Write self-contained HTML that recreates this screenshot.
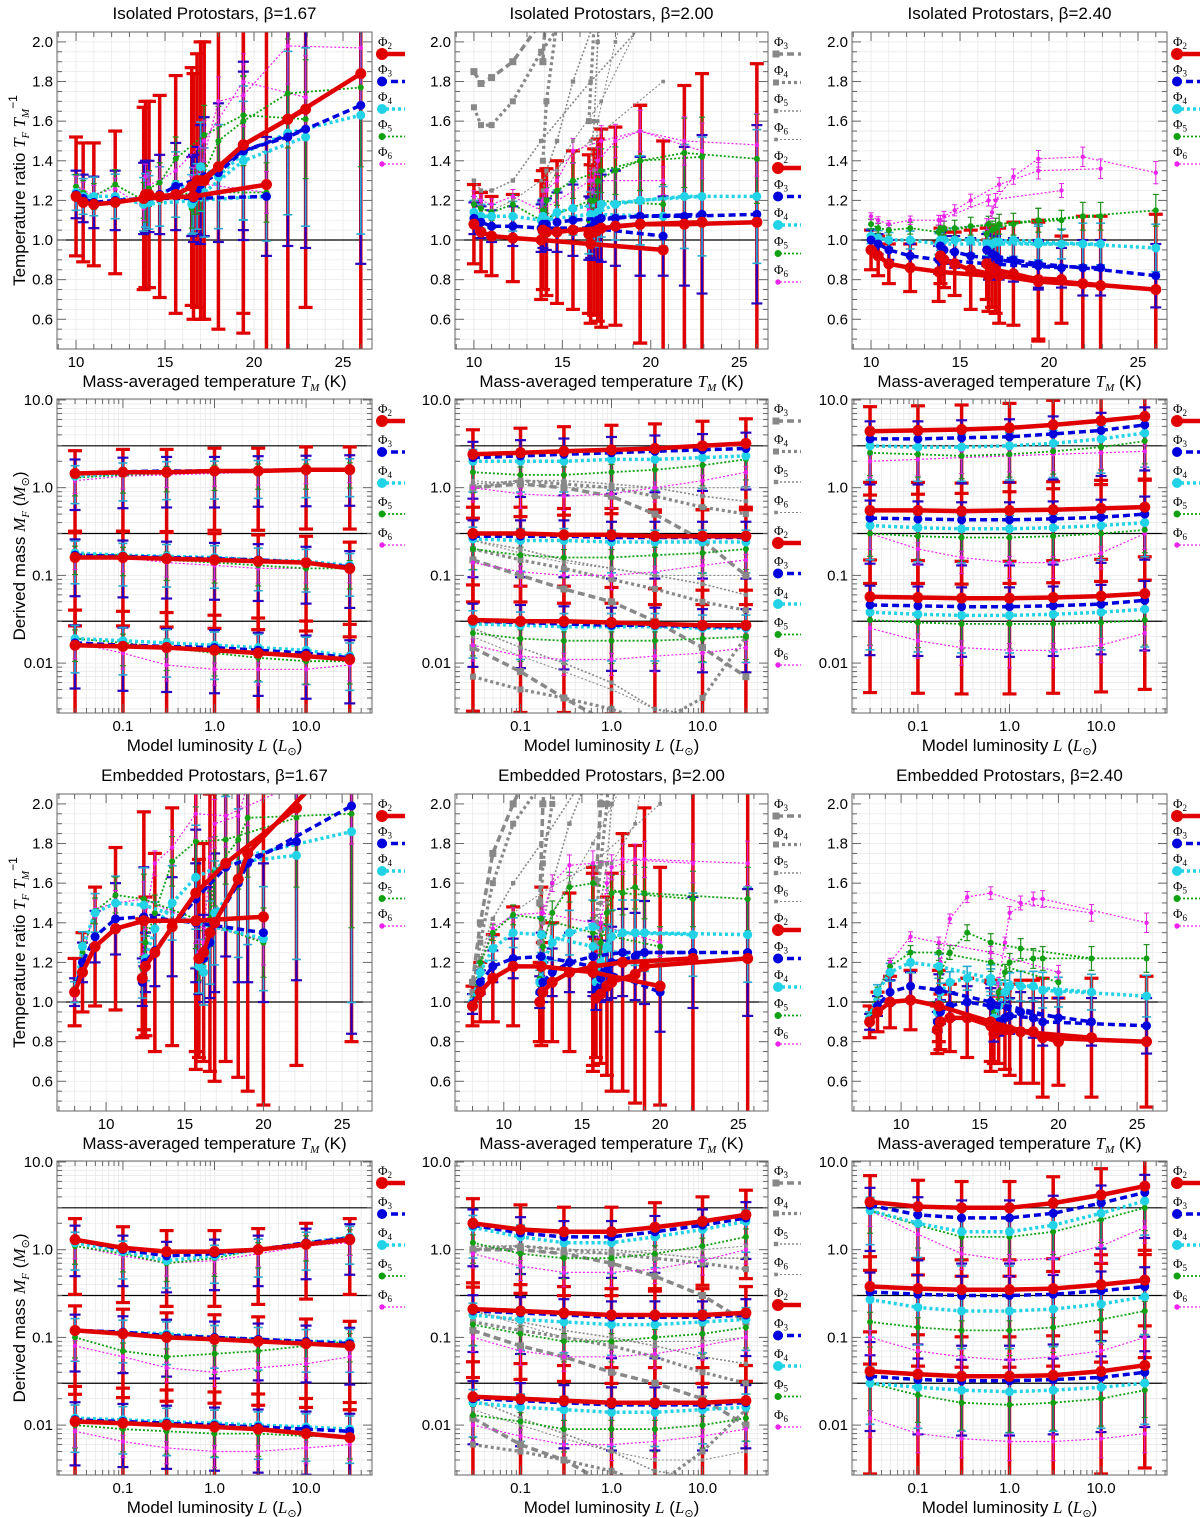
<!DOCTYPE html>
<html><head><meta charset="utf-8"><title>Protostar temperature and mass ratios</title>
<style>
html,body{margin:0;padding:0;background:#fff;}
svg{display:block;font-family:"Liberation Sans",sans-serif;}
</style></head>
<body>
<svg id="fig" width="1200" height="1517" viewBox="0 0 1200 1517" xmlns="http://www.w3.org/2000/svg">
<rect x="0" y="0" width="1200" height="1517" fill="#fff"/>
<defs id="defs"></defs>
</svg>
<script>
// ---------- data ----------
const tempIso = [[10.0,10.4,11.0,12.2,13.8,16.6,20.7],[13.9,14.1,14.7,15.6,17.2,19.4,22.9],[16.5,16.8,17.0,18.0,19.4,21.9,26.0]];
const tempEmb = [[8.0,8.5,9.3,10.6,12.4,15.7,20.0],[12.3,12.5,13.1,14.2,15.7,17.6,22.1],[15.9,16.2,16.6,16.9,18.4,19.0,25.6]];
const lumModel = [0.03,0.1,0.3,1,3,10,30];
const massTrue = [3,0.3,0.03];
const ratioTicks = ["0.6","0.8","1.0","1.2","1.4","1.6","1.8","2.0"];
const tempTicks = ["10","15","20","25"];
const massTicks = ["0.01","0.1","1.0","10.0"];
const lumTicks = ["0.1","1.0","10.0"];

// Isolated beta=1.67 (ratio)
const r1c1_phi2=[[1.22,1.19,1.18,1.19,1.21,1.22,1.28],[1.23,1.23,1.22,1.23,1.30,1.48,1.66],[1.27,1.30,1.30,1.37,1.48,1.61,1.84]];
const r1c1_phi3=[[1.23,1.21,1.19,1.20,1.21,1.21,1.22],[1.22,1.22,1.23,1.27,1.32,1.45,1.56],[1.22,1.25,1.28,1.34,1.45,1.52,1.68]];
const r1c1_phi4=[[1.24,1.22,1.22,1.22,1.18,1.20,1.22],[1.20,1.19,1.22,1.28,1.24,1.40,1.52],[1.18,1.22,1.37,1.32,1.44,1.54,1.63]];
const r1c1_phi5=[[1.27,1.24,1.22,1.28,1.20,1.24,1.24],[1.18,1.26,1.29,1.41,1.53,1.63,1.61],[1.16,1.24,1.30,1.50,1.60,1.74,1.77]];
const r1c1_phi6=[[1.28,1.25,1.23,1.26,1.16,1.29,1.24],[1.32,1.28,1.30,1.35,1.50,1.80,1.72],[1.25,1.30,1.36,1.70,1.73,1.98,1.97]];
const r1c1_errR=[[0.30,0.30,0.31,0.36,0.46,0.62,0.9],[0.47,0.47,0.51,0.6,0.7,0.85,1.0],[0.6,0.64,0.7,0.82,0.95,1.2,1.5]];
const r1c1_errB=[[0.12,0.12,0.13,0.15,0.18,0.22,0.3],[0.18,0.18,0.2,0.22,0.3,0.4,0.6],[0.2,0.22,0.3,0.35,0.45,0.55,0.8]];
// Isolated beta=2.00
const r1c2_phi2=[[1.08,1.04,1.02,1.01,1.0,0.98,0.95],[1.05,1.04,1.04,1.05,1.06,1.08,1.09],[1.03,1.04,1.05,1.07,1.08,1.08,1.09]];
const r1c2_phi3=[[1.11,1.09,1.07,1.07,1.06,1.06,1.02],[1.08,1.08,1.09,1.1,1.11,1.12,1.13],[1.06,1.08,1.10,1.11,1.12,1.12,1.13]];
const r1c2_phi4=[[1.14,1.12,1.12,1.12,1.1,1.13,1.12],[1.12,1.1,1.14,1.16,1.18,1.2,1.22],[1.05,1.1,1.14,1.18,1.2,1.22,1.22]];
const r1c2_phi5=[[1.18,1.16,1.14,1.18,1.1,1.2,1.18],[1.15,1.2,1.25,1.3,1.35,1.4,1.42],[1.1,1.2,1.3,1.35,1.4,1.44,1.41]];
const r1c2_phi6=[[1.22,1.2,1.18,1.22,1.15,1.3,1.3],[1.2,1.25,1.3,1.45,1.5,1.55,1.45],[1.15,1.3,1.4,1.5,1.55,1.5,1.48]];
const r1c2_gray3=[[1.85,1.79,1.82,1.9,2.1,2.5,3],[1.9,2.2,2.6,3,3,3,3],[2.1,2.5,3,3,3,3,3]];
const r1c2_gray4=[[1.67,1.58,1.58,1.7,1.95,2.3,3],[1.4,1.7,2.1,2.6,3,3,3],[1.6,2.1,2.8,3,3,3,3]];
const r1c2_gray5=[[1.3,1.25,1.25,1.3,1.5,1.8,2.2],[1.25,1.35,1.5,1.8,2.2,3,3],[1.3,1.6,2,2.6,3,3,3]];
const r1c2_gray6=[[1.2,1.15,1.15,1.2,1.3,1.5,1.8],[1.2,1.25,1.35,1.5,1.7,2.1,2.5],[1.2,1.35,1.6,2.0,2.5,3,3]];
const r1c2_errR=[[0.2,0.2,0.2,0.22,0.3,0.4,0.55],[0.3,0.32,0.36,0.4,0.5,0.6,0.75],[0.4,0.42,0.46,0.5,0.6,0.7,0.8]];
const r1c2_errB=[[0.08,0.08,0.08,0.1,0.12,0.15,0.2],[0.12,0.13,0.15,0.18,0.22,0.3,0.4],[0.16,0.18,0.2,0.24,0.3,0.35,0.45]];
// Isolated beta=2.40
const r1c3_phi2=[[0.95,0.92,0.88,0.86,0.84,0.82,0.80],[0.92,0.90,0.88,0.85,0.82,0.79,0.77],[0.88,0.86,0.85,0.83,0.80,0.78,0.75]];
const r1c3_phi3=[[1.0,0.98,0.95,0.92,0.9,0.88,0.86],[0.97,0.95,0.94,0.92,0.9,0.87,0.86],[0.95,0.93,0.92,0.9,0.88,0.86,0.82]];
const r1c3_phi4=[[1.02,1.01,1.0,1.0,0.98,0.98,0.98],[1.0,1.0,1.0,1.0,0.99,0.98,0.98],[0.98,0.98,0.99,1.0,0.99,0.98,0.96]];
const r1c3_phi5=[[1.08,1.06,1.05,1.06,1.04,1.08,1.1],[1.06,1.06,1.06,1.07,1.08,1.1,1.12],[1.03,1.05,1.06,1.08,1.1,1.12,1.15]];
const r1c3_phi6=[[1.12,1.1,1.08,1.1,1.1,1.2,1.25],[1.1,1.12,1.15,1.2,1.28,1.35,1.36],[1.08,1.14,1.2,1.32,1.41,1.42,1.34]];
const r1c3_errR=[[0.1,0.1,0.1,0.12,0.15,0.18,0.22],[0.14,0.14,0.16,0.2,0.24,0.3,0.35],[0.18,0.2,0.22,0.26,0.3,0.34,0.38]];
const r1c3_errB=[[0.05,0.05,0.05,0.06,0.07,0.08,0.1],[0.07,0.07,0.08,0.09,0.1,0.12,0.14],[0.08,0.09,0.1,0.11,0.12,0.14,0.16]];
// Embedded beta=1.67
const r3c1_phi2=[[1.05,1.15,1.28,1.37,1.41,1.41,1.43],[1.12,1.18,1.25,1.38,1.55,1.70,1.98],[1.22,1.25,1.35,1.40,1.62,1.75,2.3]];
const r3c1_phi3=[[1.05,1.2,1.33,1.42,1.43,1.40,1.35],[1.1,1.2,1.26,1.38,1.52,1.68,1.81],[1.22,1.22,1.3,1.4,1.6,1.7,1.99]];
const r3c1_phi4=[[1.05,1.28,1.45,1.5,1.49,1.4,1.32],[1.11,1.22,1.37,1.50,1.63,1.70,1.74],[1.18,1.15,1.3,1.45,1.6,1.74,1.86]];
const r3c1_phi5=[[1.04,1.25,1.46,1.54,1.52,1.42,1.3],[1.17,1.3,1.45,1.71,1.81,1.82,1.93],[1.2,1.25,1.42,1.66,1.82,1.93,1.95]];
const r3c1_phi6=[[1.03,1.24,1.47,1.50,1.52,1.40,1.31],[1.2,1.42,1.70,1.78,1.95,1.94,2.1],[1.25,1.3,1.73,1.9,1.94,2.1,2.2]];
const r3c1_errR=[[0.17,0.2,0.3,0.41,0.55,0.75,0.95],[0.3,0.35,0.5,0.6,0.8,1.0,1.3],[0.5,0.55,0.7,0.8,1.0,1.2,1.5]];
const r3c1_errB=[[0.07,0.1,0.13,0.18,0.25,0.3,0.35],[0.12,0.15,0.18,0.25,0.35,0.45,0.7],[0.18,0.22,0.28,0.35,0.5,0.6,1.15]];
// Embedded beta=2.00
const r3c2_phi2=[[0.98,1.05,1.12,1.18,1.18,1.15,1.08],[1.0,1.05,1.1,1.15,1.18,1.2,1.22],[1.02,1.04,1.08,1.1,1.14,1.18,1.22]];
const r3c2_phi3=[[0.99,1.1,1.18,1.22,1.23,1.18,1.05],[1.05,1.1,1.15,1.2,1.23,1.25,1.25],[1.06,1.12,1.16,1.2,1.23,1.25,1.25]];
const r3c2_phi4=[[1.0,1.15,1.27,1.35,1.34,1.28,1.2],[1.1,1.2,1.3,1.35,1.38,1.35,1.34],[1.1,1.2,1.28,1.33,1.35,1.35,1.34]];
const r3c2_phi5=[[1.0,1.2,1.35,1.44,1.42,1.35,1.28],[1.12,1.28,1.45,1.58,1.6,1.55,1.52],[1.15,1.3,1.45,1.55,1.58,1.55,1.52]];
const r3c2_phi6=[[1.0,1.2,1.37,1.44,1.45,1.4,1.3],[1.2,1.45,1.6,1.69,1.7,1.72,1.7],[1.2,1.4,1.6,1.68,1.72,1.72,1.7]];
const r3c2_gray3=[[1.1,1.4,1.75,2.0,2.3,3,3],[1.5,2.0,2.5,3,3,3,3],[1.6,2,2.5,3,3,3,3]];
const r3c2_gray4=[[1.05,1.3,1.6,1.9,2.1,2.6,3],[1.3,1.7,2.0,2.5,3,3,3],[1.4,1.7,2.0,2.4,3,3,3]];
const r3c2_gray5=[[1.02,1.22,1.42,1.6,1.8,2.2,2.6],[1.2,1.4,1.6,1.9,2.2,2.6,3],[1.3,1.5,1.7,2.0,2.4,3,3]];
const r3c2_gray6=[[1.0,1.18,1.35,1.45,1.55,1.7,2.0],[1.15,1.3,1.45,1.6,1.8,2.1,2.5],[1.2,1.35,1.5,1.7,1.9,2.2,2.6]];
const r3c2_errR=[[0.1,0.15,0.22,0.3,0.4,0.5,0.6],[0.2,0.25,0.3,0.4,0.5,0.65,0.85],[0.3,0.35,0.45,0.55,0.65,0.8,1.0]];
const r3c2_errB=[[0.05,0.06,0.08,0.1,0.12,0.15,0.2],[0.08,0.1,0.12,0.15,0.18,0.22,0.28],[0.1,0.12,0.15,0.18,0.22,0.26,0.32]];
// Embedded beta=2.40
const r3c3_phi2=[[0.9,0.95,1.0,1.01,0.98,0.9,0.8],[0.86,0.9,0.92,0.92,0.88,0.85,0.82],[0.84,0.86,0.86,0.86,0.85,0.82,0.80]];
const r3c3_phi3=[[0.9,0.98,1.05,1.08,1.06,1.0,0.92],[0.9,0.95,0.98,1.0,0.98,0.95,0.9],[0.86,0.9,0.92,0.93,0.92,0.9,0.88]];
const r3c3_phi4=[[0.92,1.05,1.15,1.2,1.18,1.12,1.05],[0.95,1.05,1.1,1.12,1.1,1.08,1.05],[0.92,0.98,1.05,1.08,1.08,1.06,1.03]];
const r3c3_phi5=[[0.92,1.05,1.18,1.25,1.25,1.2,1.1],[0.98,1.15,1.25,1.35,1.3,1.27,1.22],[0.95,1.05,1.15,1.2,1.22,1.22,1.22]];
const r3c3_phi6=[[0.92,1.05,1.2,1.33,1.3,1.25,1.15],[1.0,1.2,1.42,1.53,1.55,1.5,1.45],[0.98,1.1,1.3,1.45,1.52,1.52,1.4]];
const r3c3_errR=[[0.08,0.1,0.13,0.15,0.18,0.2,0.22],[0.12,0.14,0.17,0.2,0.23,0.26,0.3],[0.15,0.17,0.2,0.23,0.26,0.3,0.33]];
const r3c3_errB=[[0.04,0.05,0.06,0.07,0.08,0.09,0.1],[0.05,0.06,0.07,0.08,0.09,0.1,0.12],[0.06,0.07,0.08,0.09,0.1,0.12,0.14]];

// Mass panels (rows: true mass 3, 0.3, 0.03)
const r2c1_phi2=[[1.45,1.5,1.5,1.55,1.55,1.6,1.6],[0.16,0.16,0.155,0.15,0.145,0.14,0.12],[0.016,0.0155,0.015,0.014,0.013,0.012,0.011]];
const r2c1_phi3=[[1.45,1.52,1.55,1.55,1.58,1.6,1.62],[0.17,0.165,0.16,0.155,0.15,0.14,0.125],[0.017,0.016,0.0155,0.015,0.014,0.013,0.0115]];
const r2c1_phi4=[[1.35,1.45,1.5,1.52,1.55,1.58,1.62],[0.18,0.17,0.165,0.16,0.15,0.145,0.13],[0.019,0.018,0.017,0.016,0.015,0.014,0.012]];
const r2c1_phi5=[[1.3,1.4,1.45,1.5,1.55,1.55,1.6],[0.175,0.17,0.15,0.14,0.13,0.12,0.12],[0.019,0.017,0.015,0.013,0.0115,0.0105,0.0105]];
const r2c1_phi6=[[1.2,1.35,1.4,1.45,1.5,1.55,1.6],[0.17,0.16,0.14,0.13,0.12,0.12,0.12],[0.017,0.013,0.0095,0.0085,0.0085,0.0085,0.0095]];
const r2c1_errR=[0.26,0.3,0.4];
const r2c1_errB=[0.16,0.18,0.2];

const r2c2_phi2=[[2.4,2.5,2.6,2.7,2.8,3.0,3.2],[0.3,0.3,0.29,0.29,0.28,0.28,0.28],[0.031,0.03,0.03,0.029,0.028,0.027,0.027]];
const r2c2_phi3=[[2.2,2.3,2.4,2.5,2.6,2.7,2.8],[0.28,0.28,0.28,0.27,0.27,0.27,0.27],[0.03,0.029,0.028,0.027,0.027,0.026,0.026]];
const r2c2_phi4=[[2.0,2.0,2.0,2.1,2.1,2.2,2.3],[0.26,0.25,0.25,0.24,0.24,0.24,0.24],[0.028,0.027,0.026,0.026,0.026,0.025,0.025]];
const r2c2_phi5=[[1.5,1.4,1.4,1.5,1.6,1.8,2.1],[0.2,0.17,0.16,0.16,0.17,0.18,0.2],[0.022,0.019,0.018,0.018,0.018,0.019,0.02]];
const r2c2_phi6=[[1.0,0.85,0.8,0.85,1.0,1.2,1.5],[0.14,0.11,0.1,0.1,0.11,0.13,0.15],[0.016,0.012,0.011,0.011,0.012,0.013,0.015]];
const r2c2_gray3=[[1.0,1.1,1.0,0.8,0.5,0.25,0.1],[0.15,0.1,0.07,0.05,0.03,0.015,0.007],[0.015,0.008,0.004,0.002,0.001,0.0005,0.0003]];
const r2c2_gray4=[[1.0,1.2,1.1,1.0,0.8,0.6,0.5],[0.2,0.15,0.12,0.09,0.07,0.05,0.04],[0.007,0.005,0.004,0.003,0.002,0.004,0.02]];
const r2c2_gray5=[[1.1,1.2,1.2,1.1,1.0,0.8,0.7],[0.25,0.2,0.15,0.12,0.1,0.08,0.06],[0.025,0.015,0.01,0.006,0.003,0.0025,0.002]];
const r2c2_gray6=[[1.2,1.1,1.0,1.0,1.0,1.0,1.0],[0.25,0.18,0.14,0.12,0.1,0.1,0.1],[0.02,0.012,0.008,0.005,0.003,0.002,0.002]];
const r2c2_errR=[0.28,0.3,0.4];
const r2c2_errB=[0.18,0.18,0.2];

const r2c3_phi2=[[4.4,4.5,4.6,4.8,5.2,5.8,6.5],[0.55,0.55,0.54,0.55,0.56,0.58,0.6],[0.057,0.056,0.055,0.055,0.056,0.058,0.062]];
const r2c3_phi3=[[3.6,3.6,3.7,3.8,4.1,4.5,5.2],[0.45,0.44,0.43,0.43,0.44,0.46,0.5],[0.046,0.045,0.044,0.044,0.045,0.047,0.052]];
const r2c3_phi4=[[3.0,2.9,2.9,3.0,3.2,3.6,4.2],[0.37,0.35,0.34,0.34,0.35,0.37,0.4],[0.038,0.036,0.035,0.035,0.036,0.038,0.041]];
const r2c3_phi5=[[2.5,2.4,2.3,2.4,2.6,2.9,3.4],[0.3,0.28,0.27,0.27,0.28,0.3,0.33],[0.031,0.029,0.028,0.028,0.028,0.029,0.031]];
const r2c3_phi6=[[2.0,2.1,2.2,2.3,2.4,2.5,2.6],[0.3,0.2,0.16,0.14,0.14,0.18,0.3],[0.025,0.018,0.015,0.014,0.014,0.016,0.022]];
const r2c3_errR=[0.28,0.32,0.42];
const r2c3_errB=[0.2,0.2,0.22];

const r4c1_phi2=[[1.3,1.05,0.95,0.95,1.0,1.15,1.3],[0.12,0.11,0.1,0.095,0.09,0.085,0.08],[0.011,0.0105,0.01,0.0095,0.009,0.008,0.0072]];
const r4c1_phi3=[[1.3,1.0,0.85,0.9,1.0,1.2,1.35],[0.12,0.115,0.105,0.1,0.095,0.09,0.085],[0.0115,0.011,0.0105,0.01,0.0095,0.009,0.0085]];
const r4c1_phi4=[[1.2,0.95,0.75,0.85,1.0,1.2,1.4],[0.12,0.115,0.11,0.1,0.095,0.09,0.09],[0.012,0.0115,0.011,0.0105,0.01,0.0095,0.009]];
const r4c1_phi5=[[1.1,0.9,0.7,0.8,1.0,1.2,1.4],[0.1,0.07,0.06,0.065,0.07,0.08,0.09],[0.01,0.009,0.0085,0.008,0.008,0.0075,0.0075]];
const r4c1_phi6=[[1.1,0.85,0.7,0.75,0.9,1.1,1.2],[0.08,0.06,0.045,0.04,0.045,0.05,0.06],[0.0085,0.0065,0.0055,0.005,0.005,0.0055,0.006]];
const r4c1_errR=[0.24,0.28,0.4];
const r4c1_errB=[0.16,0.18,0.2];

const r4c2_phi2=[[2.0,1.7,1.6,1.6,1.8,2.1,2.5],[0.21,0.2,0.19,0.18,0.18,0.18,0.19],[0.021,0.02,0.019,0.018,0.018,0.018,0.019]];
const r4c2_phi3=[[1.9,1.55,1.4,1.4,1.6,1.9,2.3],[0.2,0.19,0.18,0.17,0.17,0.17,0.18],[0.02,0.019,0.018,0.017,0.017,0.017,0.018]];
const r4c2_phi4=[[1.8,1.4,1.2,1.2,1.4,1.7,2.1],[0.18,0.16,0.15,0.14,0.14,0.15,0.16],[0.018,0.016,0.015,0.014,0.014,0.015,0.016]];
const r4c2_phi5=[[1.2,0.9,0.8,0.8,0.9,1.1,1.4],[0.14,0.11,0.09,0.09,0.1,0.11,0.13],[0.013,0.011,0.009,0.009,0.009,0.01,0.012]];
const r4c2_phi6=[[0.9,0.65,0.55,0.55,0.6,0.75,1.0],[0.1,0.07,0.06,0.06,0.065,0.08,0.1],[0.01,0.0075,0.006,0.006,0.0065,0.0075,0.009]];
const r4c2_gray3=[[1.0,1.0,0.9,0.7,0.5,0.3,0.15],[0.12,0.08,0.06,0.04,0.03,0.02,0.01],[0.012,0.006,0.004,0.002,0.001,0.001,0.002]];
const r4c2_gray4=[[1.0,1.1,1.0,0.9,0.8,0.7,0.6],[0.15,0.12,0.1,0.08,0.06,0.04,0.03],[0.006,0.005,0.004,0.003,0.002,0.005,0.015]];
const r4c2_gray5=[[1.1,1.1,1.0,1.0,0.9,0.8,0.8],[0.2,0.15,0.12,0.1,0.08,0.06,0.05],[0.02,0.012,0.008,0.005,0.003,0.0025,0.002]];
const r4c2_gray6=[[1.1,1.0,0.9,0.9,1.0,1.0,1.1],[0.2,0.14,0.1,0.09,0.09,0.09,0.1],[0.015,0.01,0.007,0.005,0.004,0.004,0.005]];
const r4c2_errR=[0.28,0.3,0.4];
const r4c2_errB=[0.18,0.18,0.2];

const r4c3_phi2=[[3.5,3.1,3.0,3.0,3.4,4.2,5.3],[0.38,0.36,0.35,0.35,0.36,0.4,0.45],[0.041,0.038,0.036,0.036,0.037,0.041,0.048]];
const r4c3_phi3=[[3.2,2.5,2.3,2.3,2.6,3.4,4.5],[0.33,0.31,0.3,0.3,0.31,0.34,0.38],[0.036,0.033,0.032,0.032,0.033,0.035,0.04]];
const r4c3_phi4=[[2.8,2.0,1.6,1.6,1.9,2.6,3.6],[0.27,0.22,0.2,0.2,0.21,0.24,0.29],[0.03,0.027,0.025,0.024,0.025,0.027,0.03]];
const r4c3_phi5=[[2.8,1.9,1.4,1.4,1.6,2.2,3.0],[0.15,0.13,0.12,0.12,0.13,0.16,0.2],[0.03,0.022,0.018,0.017,0.018,0.02,0.025]];
const r4c3_phi6=[[2.8,1.5,0.9,0.75,0.8,1.1,1.8],[0.1,0.07,0.06,0.055,0.06,0.07,0.1],[0.012,0.008,0.007,0.0065,0.0065,0.007,0.008]];
const r4c3_errR=[0.3,0.34,0.45];
const r4c3_errB=[0.2,0.22,0.24];

// ---------- drawing ----------
const NS='http://www.w3.org/2000/svg';
const svg=document.getElementById('fig');
const defs=document.getElementById('defs');
function mk(tag,attrs,parent){const e=document.createElementNS(NS,tag);for(const k in attrs)e.setAttribute(k,attrs[k]);(parent||svg).appendChild(e);return e;}

const COLS=[[57,372],[455,768],[852,1167]];
const ROWS=[[32,349],[399,713],[794,1111],[1161,1475]];
const STY={
 phi2:{c:'#e00000',w:4.5,d:'',r:5.5,lab:'2'},
 phi3:{c:'#0000dd',w:3.5,d:'7,4',r:4.5,lab:'3'},
 phi4:{c:'#22d2e6',w:3.5,d:'3,3',r:4.5,lab:'4'},
 phi5:{c:'#11a011',w:1.8,d:'2,2',r:3,lab:'5'},
 phi6:{c:'#ee22ee',w:1.2,d:'2,2',r:2.2,lab:'6'},
 gray3:{c:'#888',w:3.5,d:'7,4',r:3.5,lab:'3',sq:1},
 gray4:{c:'#888',w:3.2,d:'3,3',r:3,lab:'4',sq:1},
 gray5:{c:'#888',w:1.6,d:'2,2',r:2.2,lab:'5',sq:1},
 gray6:{c:'#888',w:1.1,d:'2,2',r:1.8,lab:'6',sq:1}
};

const panels=[
 {r:0,c:0,kind:'T',T:tempIso,env:'Isolated',beta:'1.67',s:{phi2:r1c1_phi2,phi3:r1c1_phi3,phi4:r1c1_phi4,phi5:r1c1_phi5,phi6:r1c1_phi6},eR:r1c1_errR,eB:r1c1_errB},
 {r:0,c:1,kind:'T',T:tempIso,env:'Isolated',beta:'2.00',s:{phi2:r1c2_phi2,phi3:r1c2_phi3,phi4:r1c2_phi4,phi5:r1c2_phi5,phi6:r1c2_phi6},g:{gray3:r1c2_gray3,gray4:r1c2_gray4,gray5:r1c2_gray5,gray6:r1c2_gray6},eR:r1c2_errR,eB:r1c2_errB},
 {r:0,c:2,kind:'T',T:tempIso,env:'Isolated',beta:'2.40',s:{phi2:r1c3_phi2,phi3:r1c3_phi3,phi4:r1c3_phi4,phi5:r1c3_phi5,phi6:r1c3_phi6},eR:r1c3_errR,eB:r1c3_errB},
 {r:1,c:0,kind:'M',s:{phi2:r2c1_phi2,phi3:r2c1_phi3,phi4:r2c1_phi4,phi5:r2c1_phi5,phi6:r2c1_phi6},eR:r2c1_errR,eB:r2c1_errB},
 {r:1,c:1,kind:'M',s:{phi2:r2c2_phi2,phi3:r2c2_phi3,phi4:r2c2_phi4,phi5:r2c2_phi5,phi6:r2c2_phi6},g:{gray3:r2c2_gray3,gray4:r2c2_gray4,gray5:r2c2_gray5,gray6:r2c2_gray6},eR:r2c2_errR,eB:r2c2_errB},
 {r:1,c:2,kind:'M',s:{phi2:r2c3_phi2,phi3:r2c3_phi3,phi4:r2c3_phi4,phi5:r2c3_phi5,phi6:r2c3_phi6},eR:r2c3_errR,eB:r2c3_errB},
 {r:2,c:0,kind:'T',T:tempEmb,env:'Embedded',beta:'1.67',s:{phi2:r3c1_phi2,phi3:r3c1_phi3,phi4:r3c1_phi4,phi5:r3c1_phi5,phi6:r3c1_phi6},eR:r3c1_errR,eB:r3c1_errB},
 {r:2,c:1,kind:'T',T:tempEmb,env:'Embedded',beta:'2.00',s:{phi2:r3c2_phi2,phi3:r3c2_phi3,phi4:r3c2_phi4,phi5:r3c2_phi5,phi6:r3c2_phi6},g:{gray3:r3c2_gray3,gray4:r3c2_gray4,gray5:r3c2_gray5,gray6:r3c2_gray6},eR:r3c2_errR,eB:r3c2_errB},
 {r:2,c:2,kind:'T',T:tempEmb,env:'Embedded',beta:'2.40',s:{phi2:r3c3_phi2,phi3:r3c3_phi3,phi4:r3c3_phi4,phi5:r3c3_phi5,phi6:r3c3_phi6},eR:r3c3_errR,eB:r3c3_errB},
 {r:3,c:0,kind:'M',s:{phi2:r4c1_phi2,phi3:r4c1_phi3,phi4:r4c1_phi4,phi5:r4c1_phi5,phi6:r4c1_phi6},eR:r4c1_errR,eB:r4c1_errB},
 {r:3,c:1,kind:'M',s:{phi2:r4c2_phi2,phi3:r4c2_phi3,phi4:r4c2_phi4,phi5:r4c2_phi5,phi6:r4c2_phi6},g:{gray3:r4c2_gray3,gray4:r4c2_gray4,gray5:r4c2_gray5,gray6:r4c2_gray6},eR:r4c2_errR,eB:r4c2_errB},
 {r:3,c:2,kind:'M',s:{phi2:r4c3_phi2,phi3:r4c3_phi3,phi4:r4c3_phi4,phi5:r4c3_phi5,phi6:r4c3_phi6},eR:r4c3_errR,eB:r4c3_errB}
];

panels.forEach((P,pi)=>{
 const [x0,x1]=COLS[P.c],[y0,y1]=ROWS[P.r];
 const isT=P.kind==='T';
 const tmin=(P.env==='Embedded')?6.88:8.93, tmax=(P.env==='Embedded')?26.9:26.63;
 const xs=isT?(v=>x0+(v-tmin)/(tmax-tmin)*(x1-x0)):(v=>x0+(Math.log10(v)+1.72)/3.44*(x1-x0));
 const ys=isT?(v=>y1-(v-0.45)/1.6*(y1-y0)):(v=>y0+(1.011-Math.log10(v))/3.58*(y1-y0));
 const X=isT?P.T:[lumModel,lumModel,lumModel];

 const g=mk('g',{});
 
 
 const cp=mk('clipPath',{id:'cp'+pi},defs);
 mk('rect',{x:x0,y:y0,width:x1-x0,height:y1-y0},cp);

 // grid
 const grid=mk('g',{stroke:'#e9e9e9','stroke-width':0.8},g);
 
 
 const xMinor=[],yMinor=[],xMajor=[],yMajor=[];
 if(isT){
  for(let t=Math.ceil(tmin);t<=tmax;t++){(t%5===0?xMajor:xMinor).push(t);}
  for(let k=10;k<=205;k+=5){const v=k/100;if(v<0.45||v>2.05)continue;(k%20===0&&k>=60?yMajor:yMinor).push(v);}
 } else {
  for(let e=-2;e<=1;e++)for(let m=1;m<=9;m++){const v=m*Math.pow(10,e);const lv=Math.log10(v);if(lv<-1.72||lv>1.72)continue;(m===1&&e>=-1?xMajor:xMinor).push(v);}
  for(let e=-3;e<=1;e++)for(let m=1;m<=9;m++){const v=m*Math.pow(10,e);const lv=Math.log10(v);if(lv<-2.569||lv>1.011)continue;(m===1&&e>=-2?yMajor:yMinor).push(v);}
 }
 xMinor.concat(xMajor).forEach(v=>mk('line',{x1:xs(v),x2:xs(v),y1:y0,y2:y1},grid));
 yMinor.concat(yMajor).forEach(v=>mk('line',{x1:x0,x2:x1,y1:ys(v),y2:ys(v)},grid));

 // reference lines
 const refs=isT?[1.0]:massTrue;
 refs.forEach(v=>{const l=mk('line',{x1:x0,x2:x1,y1:ys(v),y2:ys(v),stroke:'#000','stroke-width':1.2},g);
  
  });

 const plot=mk('g',{'clip-path':'url(#cp'+pi+')'},g);
 
 

 function line(arr,st,name){
  arr.forEach((seq,si)=>{
   const pts=seq.map((v,i)=>xs(X[si][i]).toFixed(1)+','+ys(v).toFixed(1)).join(' ');
   const pl=mk('polyline',{points:pts,fill:'none',stroke:st.c,'stroke-width':st.w,'stroke-dasharray':st.d,'stroke-linejoin':'round'},plot);
   
   
   seq.forEach((v,i)=>{
    const cx=xs(X[si][i]),cy=ys(v);
    let m;
    if(st.sq) m=mk('rect',{x:cx-st.r,y:cy-st.r,width:2*st.r,height:2*st.r,fill:st.c},plot);
    else m=mk('circle',{cx:cx,cy:cy,r:st.r,fill:st.c},plot);
    
    
   });
  });
 }
 function errs(arr,err,color,w,cap,cw,name,scale){
  arr.forEach((seq,si)=>{
   seq.forEach((v,i)=>{
    const e=(isT?err[si][i]:err[si])*scale;
    let lo,hi;
    if(isT){lo=v-e;hi=v+e;} else {hi=v*Math.pow(10,e);lo=v/Math.pow(10,2.6*e);}
    const cx=xs(X[si][i]);
    const eg=mk('g',{stroke:color},plot);
    
    
    mk('line',{x1:cx,x2:cx,y1:ys(lo),y2:ys(hi),'stroke-width':w},eg);
    mk('line',{x1:cx-cap,x2:cx+cap,y1:ys(lo),y2:ys(lo),'stroke-width':cw},eg);
    mk('line',{x1:cx-cap,x2:cx+cap,y1:ys(hi),y2:ys(hi),'stroke-width':cw},eg);
   });
  });
 }
 errs(P.s.phi2,P.eR,'#e00000',3.5,7,3.2,'phi2',1);
 errs(P.s.phi3,P.eB,'#2a00c0',2.2,5.5,2.2,'phi3',1);
 errs(P.s.phi4,P.eB,'#29a9d0',1.6,4.5,1.6,'phi4',0.75);
 errs(P.s.phi5,P.eB,'#209020',1.2,3,1.2,'phi5',0.5);
 errs(P.s.phi6,P.eB,'#e020e0',1,2.5,1,'phi6',0.35);
 if(P.g){['gray6','gray5','gray4','gray3'].forEach(k=>line(P.g[k],STY[k],k));}
 ['phi6','phi5','phi4','phi3','phi2'].forEach(k=>line(P.s[k],STY[k],k));

 // frame & ticks
 const ax=mk('g',{stroke:'#666','stroke-width':1},g);
 
 
 mk('rect',{x:x0,y:y0,width:x1-x0,height:y1-y0,fill:'none'},ax);
 xMajor.forEach(v=>{mk('line',{x1:xs(v),x2:xs(v),y1:y1,y2:y1-9},ax);mk('line',{x1:xs(v),x2:xs(v),y1:y0,y2:y0+9},ax);});
 xMinor.forEach(v=>{mk('line',{x1:xs(v),x2:xs(v),y1:y1,y2:y1-5},ax);mk('line',{x1:xs(v),x2:xs(v),y1:y0,y2:y0+5},ax);});
 yMajor.forEach(v=>{mk('line',{x1:x0,x2:x0+9,y1:ys(v),y2:ys(v)},ax);mk('line',{x1:x1,x2:x1-9,y1:ys(v),y2:ys(v)},ax);});
 yMinor.forEach(v=>{mk('line',{x1:x0,x2:x0+5,y1:ys(v),y2:ys(v)},ax);mk('line',{x1:x1,x2:x1-5,y1:ys(v),y2:ys(v)},ax);});

 // tick labels
 const xl=isT?tempTicks:lumTicks, yl=isT?ratioTicks:massTicks;
 xl.forEach(s=>{const t=mk('text',{x:xs(parseFloat(s)),y:y1+18,'text-anchor':'middle','font-size':15,fill:'#000'},g);t.textContent=s;
  
  });
 yl.forEach(s=>{const t=mk('text',{x:x0-4,y:ys(parseFloat(s))+5,'text-anchor':'end','font-size':15,fill:'#000'},g);t.textContent=s;
  
  });

 // axis titles
 const xt=mk('text',{x:(x0+x1)/2,y:y1+38,'text-anchor':'middle','font-size':17,fill:'#000'},g);
 
 
 if(isT){xt.innerHTML='Mass-averaged temperature <tspan font-family="Liberation Serif" font-style="italic">T</tspan><tspan font-family="Liberation Serif" font-style="italic" font-size="11" dy="4">M</tspan><tspan dy="-4"> (K)</tspan>';}
 else {xt.innerHTML='Model luminosity <tspan font-family="Liberation Serif" font-style="italic">L</tspan> (<tspan font-family="Liberation Serif" font-style="italic">L</tspan><tspan font-size="11" dy="4">⊙</tspan><tspan dy="-4">)</tspan>';}
 if(P.c===0){
  const cy=(y0+y1)/2;
  const yt=mk('text',{x:0,y:0,transform:'translate(25,'+cy+') rotate(-90)','text-anchor':'middle','font-size':17,fill:'#000'},g);
  
  
  if(isT) yt.innerHTML='Temperature ratio <tspan font-family="Liberation Serif" font-style="italic">T</tspan><tspan font-family="Liberation Serif" font-style="italic" font-size="11" dy="4">F</tspan><tspan dy="-4" font-family="Liberation Serif" font-style="italic"> T</tspan><tspan font-family="Liberation Serif" font-style="italic" font-size="11" dy="4">M</tspan><tspan font-size="12" dy="-12">−1</tspan>';
  else yt.innerHTML='Derived mass <tspan font-family="Liberation Serif" font-style="italic">M</tspan><tspan font-family="Liberation Serif" font-style="italic" font-size="11" dy="4">F</tspan><tspan dy="-4"> (</tspan><tspan font-family="Liberation Serif" font-style="italic">M</tspan><tspan font-size="11" dy="4">⊙</tspan><tspan dy="-4">)</tspan>';
 }
 if(isT){
  const tt=mk('text',{x:(x0+x1)/2,y:y0-13,'text-anchor':'middle','font-size':17,fill:'#000'},g);
  
  
  tt.textContent=P.env+' Protostars, β='+P.beta;
 }

 // legend
 const keys=(P.g?['gray3','gray4','gray5','gray6']:[]).concat(['phi2','phi3','phi4','phi5','phi6']);
 const sp=P.g?(isT?28.5:30.5):(isT?27.5:31);
 const lg=mk('g',{},g);
 
 
 keys.forEach((k,i)=>{
  const st=STY[k];const ty=y0+14+i*sp;
  const e=mk('g',{},lg);
  
  
  const t=mk('text',{x:x1+6,y:ty,'font-size':13,fill:'#000','font-family':'Liberation Serif'},e);
  t.innerHTML='Φ<tspan font-size="9" dy="3">'+st.lab+'</tspan>';
  const ly=ty+8;
  mk('line',{x1:x1+8,x2:x1+33,y1:ly,y2:ly,stroke:st.c,'stroke-width':st.w,'stroke-dasharray':st.d},e);
  if(st.sq) mk('rect',{x:x1+8-st.r,y:ly-st.r,width:2*st.r,height:2*st.r,fill:st.c},e);
  else mk('circle',{cx:x1+10,cy:ly,r:st.r+0.5,fill:st.c},e);
 });
});
</script>
</body></html>
